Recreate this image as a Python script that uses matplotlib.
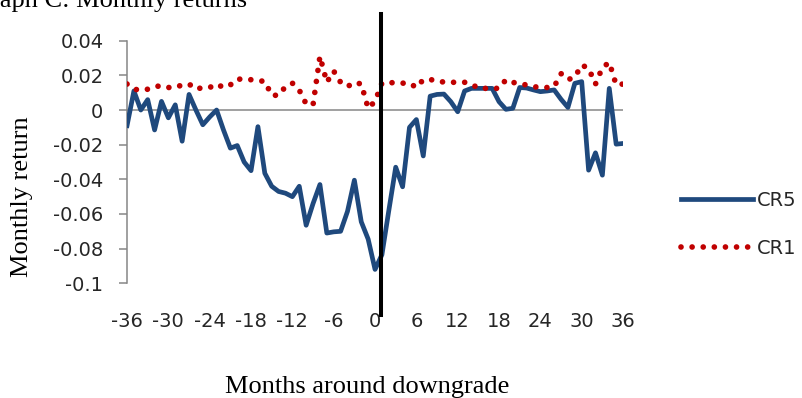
import matplotlib
matplotlib.use("Agg")
import matplotlib.pyplot as plt

# months relative to the downgrade, -36 .. 36
months = list(range(-36, 37))

# average monthly return, CR5 portfolio
cr5 = [
    -0.009, 0.011, 0.000, 0.006, -0.0115, 0.005, -0.0045, 0.003, -0.018, 0.009,
    0.000, -0.0085, -0.004, 0.000, -0.0115, -0.022, -0.0205, -0.030, -0.035, -0.0096,
    -0.0365, -0.044, -0.047, -0.048, -0.050, -0.044, -0.0665, -0.054, -0.043, -0.071,
    -0.0703, -0.070, -0.0585, -0.0405, -0.0645, -0.0745, -0.092, -0.0835, -0.058, -0.033,
    -0.0443, -0.010, -0.0055, -0.0265, 0.008, 0.009, 0.0092, 0.0048, -0.001, 0.011,
    0.0125, 0.0125, 0.0125, 0.0125, 0.0048, 0.0004, 0.001, 0.013, 0.0127, 0.0116,
    0.0106, 0.011, 0.0116, 0.0062, 0.0015, 0.0154, 0.0164, -0.0347, -0.0247, -0.0376,
    0.0125, -0.0197, -0.0193,
]

# average monthly return, CR1 portfolio
cr1 = [
    0.015, 0.012, 0.0115, 0.012, 0.0135, 0.014, 0.013, 0.013, 0.0145, 0.015,
    0.012, 0.013, 0.013, 0.015, 0.013, 0.0145, 0.018, 0.0175, 0.0175, 0.017,
    0.0165, 0.0085, 0.0085, 0.0135, 0.0155, 0.0115, 0.0035, 0.003, 0.031, 0.016,
    0.0225, 0.016, 0.0135, 0.016, 0.015, 0.001, 0.005, 0.0155, 0.016, 0.0155,
    0.0155, 0.0155, 0.013, 0.0175, 0.0175, 0.0172, 0.016, 0.016, 0.016, 0.016,
    0.015, 0.0125, 0.0125, 0.0125, 0.0125, 0.0175, 0.016, 0.015, 0.0145, 0.0135,
    0.013, 0.013, 0.0135, 0.021, 0.0175, 0.019, 0.026, 0.024, 0.015, 0.0245,
    0.0275, 0.0145, 0.015,
]

x_ticks = list(range(-36, 37, 6))
x_ticklabels = [str(t) for t in x_ticks]
y_ticks = [0.04, 0.02, 0.0, -0.02, -0.04, -0.06, -0.08, -0.1]
y_ticklabels = ["0.04", "0.02", "0", "-0.02", "-0.04", "-0.06", "-0.08", "-0.1"]

# downgrade marker
event_x = 0.85
event_y = (0.0555, -0.1185)

blue = "#1F497D"
red = "#C00000"
grey = "#868686"
text_col = "#262626"
tick_font = "DejaVu Sans"
serif = "Liberation Serif"

fig = plt.figure(figsize=(8.03, 3.98), dpi=100)
ax = fig.add_axes([0.1582, 0.2882, 0.6177, 0.6095])

ax.plot(months, cr5, color=blue, lw=3.4, solid_joinstyle="round", label="CR5", zorder=3)
ax.plot(months, cr1, color=red, lw=4.1, linestyle=(0, (0.001, 1.95)),
        dash_capstyle="round", label="CR1", zorder=4)

ax.axhline(0, color=grey, lw=1.1, zorder=1)
ax.plot([event_x, event_x], event_y, color="black", lw=2.9, clip_on=False, zorder=5)

ax.set_xlim(-36, 36)
ax.set_ylim(-0.1, 0.04)

for side in ["top", "right", "bottom"]:
    ax.spines[side].set_visible(False)
ax.spines["left"].set_color(grey)
ax.spines["left"].set_linewidth(1.1)

ax.set_xticks(x_ticks)
ax.set_xticklabels(x_ticklabels, fontsize=14, family=tick_font, color=text_col)
ax.tick_params(axis="x", length=0, pad=21)
ax.set_yticks(y_ticks)
ax.set_yticklabels(y_ticklabels, fontsize=14, family=tick_font, color=text_col)
ax.tick_params(axis="y", length=6, width=1.1, color=grey, pad=11)

ax.set_ylabel("Monthly return", family=serif, fontsize=19)
ax.yaxis.set_label_coords(-0.212, 0.356)
ax.yaxis.label.set_va("center")
ax.set_xlabel("Months around downgrade", family=serif, fontsize=19)
ax.xaxis.set_label_coords(0.484, -0.426)
ax.xaxis.label.set_va("center")

# chart title sits partly above the top edge
fig.text(-28 / 803, 1 - 7 / 398, "Graph C: Monthly returns", family=serif,
         fontsize=19, va="baseline", ha="left")

leg = ax.legend(loc="upper left", bbox_to_anchor=(681 / 803, 1 - 190.5 / 398),
                bbox_transform=fig.transFigure, frameon=False, borderpad=0,
                borderaxespad=0, handlelength=3.7, handletextpad=0.2,
                labelspacing=1.52, prop={"family": tick_font, "size": 14})
for t in leg.get_texts():
    t.set_color(text_col)

fig.savefig("out.png", dpi=100)
